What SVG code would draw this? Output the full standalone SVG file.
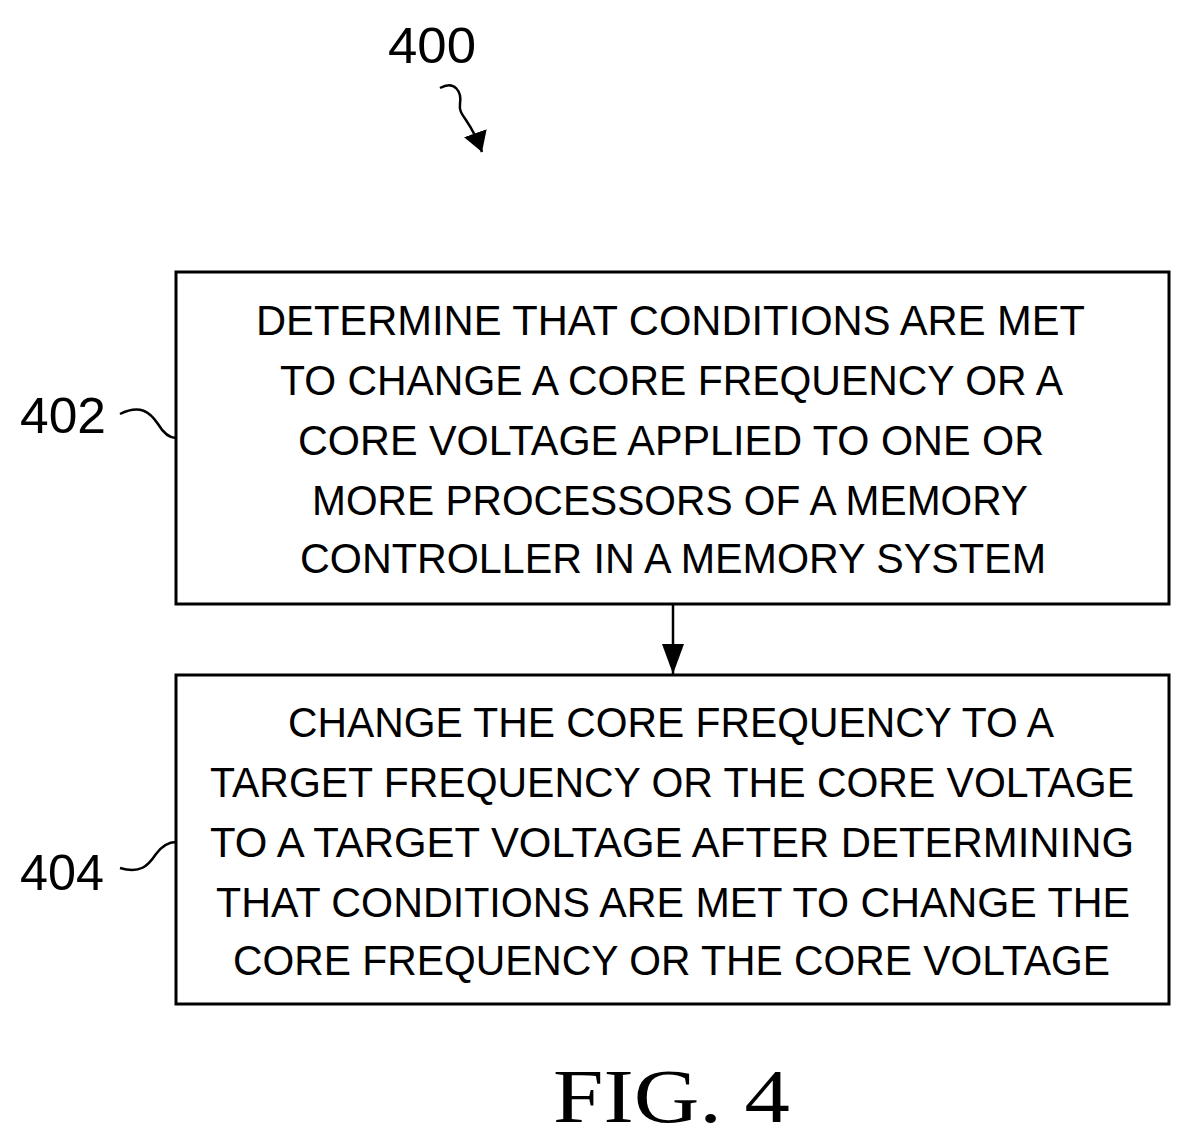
<svg xmlns="http://www.w3.org/2000/svg" width="1192" height="1145" viewBox="0 0 1192 1145">
<style>
.box{fill:#fff;stroke:#000;stroke-width:3}
.t{font-family:"Liberation Sans",Arial,sans-serif;font-size:42px;fill:#000}
.lbl{font-family:"Liberation Sans",Arial,sans-serif;font-size:50px;fill:#000}
.ln{fill:none;stroke:#000;stroke-width:2.5}
</style>
<defs>
<marker id="ah2" markerWidth="20" markerHeight="24" refX="20" refY="12" orient="auto" markerUnits="userSpaceOnUse" viewBox="0 0 20 24"><path d="M0,0 L20,12 L0,24 z" fill="#000"/></marker>
<marker id="ah3" markerWidth="30" markerHeight="22" refX="30" refY="11" orient="auto" markerUnits="userSpaceOnUse" viewBox="0 0 30 22"><path d="M0,0 L30,11 L0,22 z" fill="#000"/></marker></defs>
<g id="label400"><text class="lbl" x="388" y="63" textLength="88" lengthAdjust="spacingAndGlyphs">400</text></g>
<g id="n402">
<rect class="box" x="176" y="272" width="993" height="332"/>
<text class="t" x="256" y="335" textLength="829" lengthAdjust="spacingAndGlyphs">DETERMINE THAT CONDITIONS ARE MET</text>
<text class="t" x="280" y="395" textLength="783" lengthAdjust="spacingAndGlyphs">TO CHANGE A CORE FREQUENCY OR A</text>
<text class="t" x="298" y="455" textLength="746" lengthAdjust="spacingAndGlyphs">CORE VOLTAGE APPLIED TO ONE OR</text>
<text class="t" x="312" y="515" textLength="716" lengthAdjust="spacingAndGlyphs">MORE PROCESSORS OF A MEMORY</text>
<text class="t" x="300" y="573" textLength="746" lengthAdjust="spacingAndGlyphs">CONTROLLER IN A MEMORY SYSTEM</text>
<text class="lbl" x="20" y="433" textLength="86" lengthAdjust="spacingAndGlyphs">402</text>
</g>
<g id="n404">
<rect class="box" x="176" y="675" width="993" height="329"/>
<text class="t" x="288" y="737" textLength="766" lengthAdjust="spacingAndGlyphs">CHANGE THE CORE FREQUENCY TO A</text>
<text class="t" x="210" y="797" textLength="924" lengthAdjust="spacingAndGlyphs">TARGET FREQUENCY OR THE CORE VOLTAGE</text>
<text class="t" x="210" y="857" textLength="924" lengthAdjust="spacingAndGlyphs">TO A TARGET VOLTAGE AFTER DETERMINING</text>
<text class="t" x="216" y="917" textLength="914" lengthAdjust="spacingAndGlyphs">THAT CONDITIONS ARE MET TO CHANGE THE</text>
<text class="t" x="233" y="975" textLength="877" lengthAdjust="spacingAndGlyphs">CORE FREQUENCY OR THE CORE VOLTAGE</text>
<text class="lbl" x="20" y="890" textLength="84" lengthAdjust="spacingAndGlyphs">404</text>
</g>
<g id="connectors">
<line class="ln" x1="673" y1="605" x2="673" y2="674" marker-end="url(#ah3)"/>
<path class="ln" d="M440,88 C455,80 462,92 460,104 C458,116 470,118 482,152" marker-end="url(#ah2)"/>
<path class="ln" d="M120,414 C140,404 150,412 158,424 C164,434 170,438 176,438"/>
<path class="ln" d="M120,868 C140,874 148,866 156,854 C162,846 168,842 176,842"/>
</g>
<text x="553" y="1122" font-family="Liberation Serif,Times New Roman,serif" font-size="76" textLength="237" lengthAdjust="spacingAndGlyphs">FIG. 4</text>
</svg>
